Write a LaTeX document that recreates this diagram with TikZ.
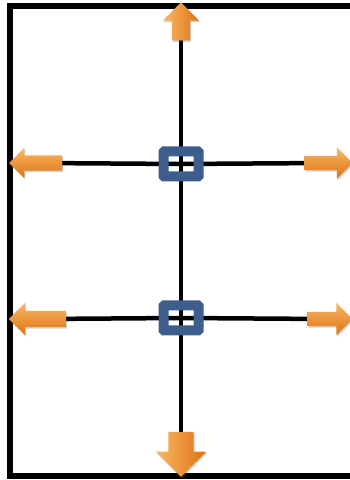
\documentclass[tikz,border=0pt]{standalone}
\usetikzlibrary{shapes.arrows,shadows,backgrounds}
\definecolor{boxblue}{HTML}{3D5E8C}
\definecolor{orlight}{HTML}{FBB766}
\definecolor{ordark}{HTML}{DC7414}
\tikzset{
  flowarrow/.style={single arrow,inner xsep=0pt,draw=none,
    top color=orlight,bottom color=ordark,
    drop shadow={opacity=0.3,shadow xshift=1pt,shadow yshift=-1.5pt,fill=black!60}},
  vflowarrow/.style={flowarrow,inner ysep=0pt,left color=orlight,right color=ordark},
  junction/.style={rectangle,draw=boxblue,line width=10pt,rounded corners=0.8pt,
    minimum width=35pt,minimum height=25pt,inner sep=0pt},
  wire/.style={line width=4.5pt,black}
}
\begin{document}
\begin{tikzpicture}[x=1pt,y=1pt]
\useasboundingbox (0,0) rectangle (350,480);
% outer frame, open on the right side
\draw[line width=6pt] (350,4) -- (10,4) -- (10,474) -- (350,474);
% the two junction boxes on the spine
\node[junction] (sq1) at (181,316) {};
\node[junction] (sq2) at (181,162) {};
% arrows out of the frame
\node[vflowarrow,shape border rotate=90,minimum height=38pt,minimum width=36pt,
  inner xsep=9pt,single arrow head extend=9pt] (up) at (181,454) {};
\node[vflowarrow,shape border rotate=270,minimum height=45pt,minimum width=50pt,
  inner xsep=12.5pt,single arrow head extend=12.5pt] (down) at (181,32) {};
\node[flowarrow,shape border rotate=180,minimum height=53pt,minimum width=30pt,
  inner ysep=7.5pt,single arrow head extend=7.5pt] (l1) at (39.5,317) {};
\node[flowarrow,minimum height=48pt,minimum width=31pt,
  inner ysep=7pt,single arrow head extend=8.5pt] (r1) at (325,317) {};
\node[flowarrow,shape border rotate=180,minimum height=57pt,minimum width=32pt,
  inner ysep=8pt,single arrow head extend=8pt] (l2) at (41.5,161) {};
\node[flowarrow,minimum height=45pt,minimum width=32pt,
  inner ysep=7pt,single arrow head extend=9pt] (r2) at (326.5,161) {};
% wires run under the boxes and arrows
\begin{scope}[on background layer]
  \draw[wire] (up.center) -- (sq1.center) -- (sq2.center) -- (down.center);
  \draw[wire] (l1.center) -- (sq1.center) -- (r1.center);
  \draw[wire] (l2.center) -- (sq2.center) -- (r2.center);
\end{scope}
\end{tikzpicture}
\end{document}
